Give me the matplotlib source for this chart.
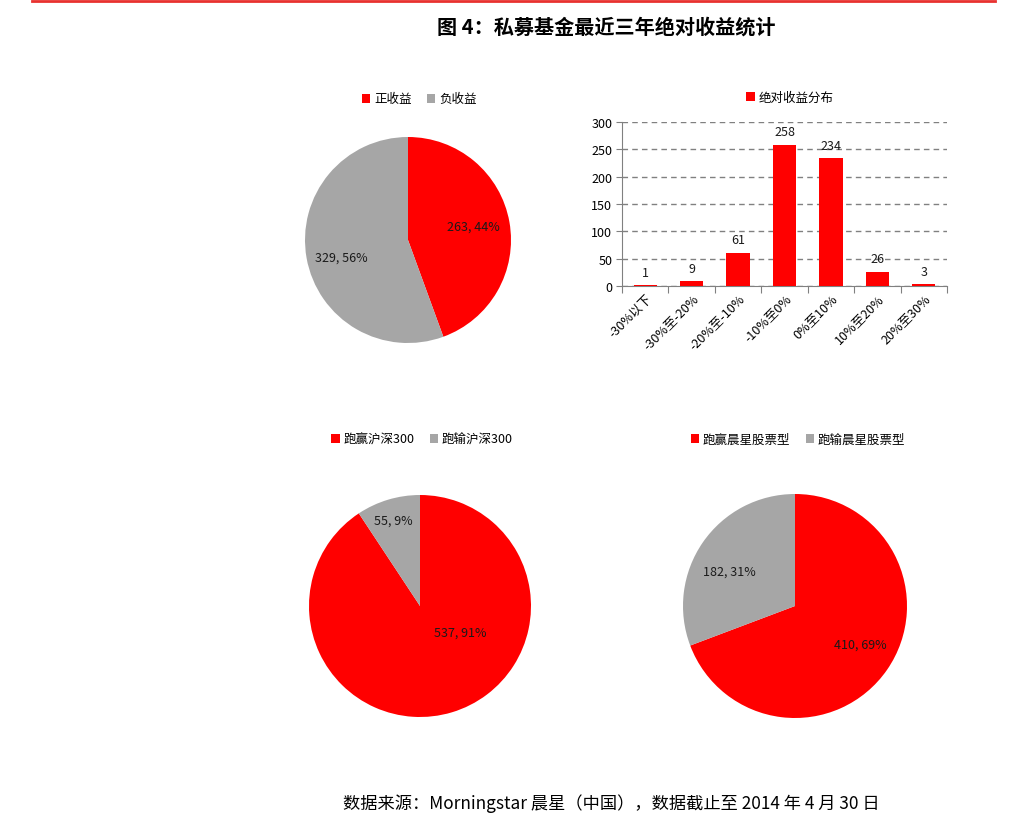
import matplotlib
matplotlib.use("Agg")
import matplotlib.pyplot as plt
from matplotlib.patches import Patch
import numpy as np

plt.rcParams['font.family'] = ['Noto Sans CJK SC', 'DejaVu Sans']

RED = '#FF0000'
GREY = '#A6A6A6'

# ---- data ----
pie1_labels = ['正收益', '负收益']
pie1_values = [263, 329]
pie1_pcts = ['44%', '56%']

bar_categories = ['-30%以下', '-30%至-20%', '-20%至-10%', '-10%至0%', '0%至10%', '10%至20%', '20%至30%']
bar_values = [1, 9, 61, 258, 234, 26, 3]
bar_legend = '绝对收益分布'
bar_yticks = [0, 50, 100, 150, 200, 250, 300]

pie2_labels = ['跑赢沪深300', '跑输沪深300']
pie2_values = [537, 55]
pie2_pcts = ['91%', '9%']

pie3_labels = ['跑赢晨星股票型', '跑输晨星股票型']
pie3_values = [410, 182]
pie3_pcts = ['69%', '31%']

title = '图 4：私募基金最近三年绝对收益统计'
footer = '数据来源：Morningstar 晨星（中国），数据截止至 2014 年 4 月 30 日'

W, H = 1022, 829
fig = plt.figure(figsize=(W / 100, H / 100), dpi=100)


def px_axes(x0, y0, x1, y1):
    return fig.add_axes([x0 / W, 1 - y1 / H, (x1 - x0) / W, (y1 - y0) / H])


def draw_pie(cx, cy, r, values, pcts, label_pos):
    ax = px_axes(cx - r, cy - r, cx + r, cy + r)
    ax.pie(values, colors=[RED, GREY], startangle=90, counterclock=False,
           radius=1.0, wedgeprops=dict(linewidth=0))
    ax.set_xlim(-1, 1)
    ax.set_ylim(-1, 1)
    ax.set_aspect('equal')
    ax.axis('off')
    for v, p, (lx, ly) in zip(values, pcts, label_pos):
        ax.text(lx, ly, f'{v}, {p}', ha='center', va='center', fontsize=9, color='#1a1a1a')
    return ax


def legend_at(xc, yc, labels, colors):
    handles = [Patch(facecolor=c, edgecolor='none', label=l) for l, c in zip(labels, colors)]
    fig.legend(handles=handles, loc='center', bbox_to_anchor=(xc / W, 1 - yc / H),
               ncol=len(handles), frameon=False, fontsize=9, handlelength=0.7,
               handleheight=0.7, handletextpad=0.3, columnspacing=1.2)


# top red line
fig.add_artist(plt.Line2D([32 / W, 995 / W], [1 - 1.5 / H, 1 - 1.5 / H], color='#E8312F', lw=2))

# title
fig.text(606 / W, 1 - 27 / H, title, ha='center', va='center', fontsize=14.5, fontweight='bold',
         family=['Noto Sans CJK SC', 'DejaVu Sans'])

# pie 1
draw_pie(408, 241, 103, pie1_values, pie1_pcts, [(0.63, 0.13), (-0.65, -0.17)])
legend_at(419, 100, pie1_labels, [RED, GREY])

# bar chart
axb = px_axes(622, 123, 947, 287)
x = np.arange(len(bar_categories))
axb.bar(x, bar_values, width=0.5, color=RED, zorder=3)
for xi, v in zip(x, bar_values):
    axb.text(xi, v + 12, str(v), ha='center', va='bottom', fontsize=9, color='#1a1a1a')
axb.set_xlim(-0.5, len(bar_categories) - 0.5)
axb.set_ylim(0, 300)
axb.set_yticks(bar_yticks)
axb.tick_params(axis='y', labelsize=9, length=4, color='#808080', direction='out', pad=3)
axb.set_xticks(np.arange(len(bar_categories) + 1) - 0.5, minor=False)
axb.set_xticklabels([])
axb.set_xticks(x, minor=True)
axb.set_xticklabels(bar_categories, minor=True, rotation=45, ha='right', rotation_mode='anchor',
                    fontsize=9)
axb.tick_params(axis='x', which='minor', length=0, pad=4)
axb.tick_params(axis='x', which='major', length=5, color='#808080', direction='out')
axb.grid(axis='y', linestyle=(0, (4, 3)), color='#808080', linewidth=1, zorder=0)
for s in ['top', 'right']:
    axb.spines[s].set_visible(False)
for s in ['left', 'bottom']:
    axb.spines[s].set_color('#808080')
axb.set_axisbelow(True)
legend_at(790, 98, [bar_legend], [RED])

# pie 2
draw_pie(420, 607, 111, pie2_values, pie2_pcts, [(0.36, -0.24), (-0.24, 0.77)])
legend_at(422, 440, pie2_labels, [RED, GREY])

# pie 3
draw_pie(795, 607, 112, pie3_values, pie3_pcts, [(0.58, -0.34), (-0.59, 0.31)])
legend_at(798, 440, pie3_labels, [RED, GREY])

# footer
fig.text(611 / W, 1 - 804 / H, footer, ha='center', va='center', fontsize=12.4,
         family=['Noto Sans CJK SC', 'DejaVu Sans'])

fig.savefig('out.png', dpi=100, facecolor='white')
